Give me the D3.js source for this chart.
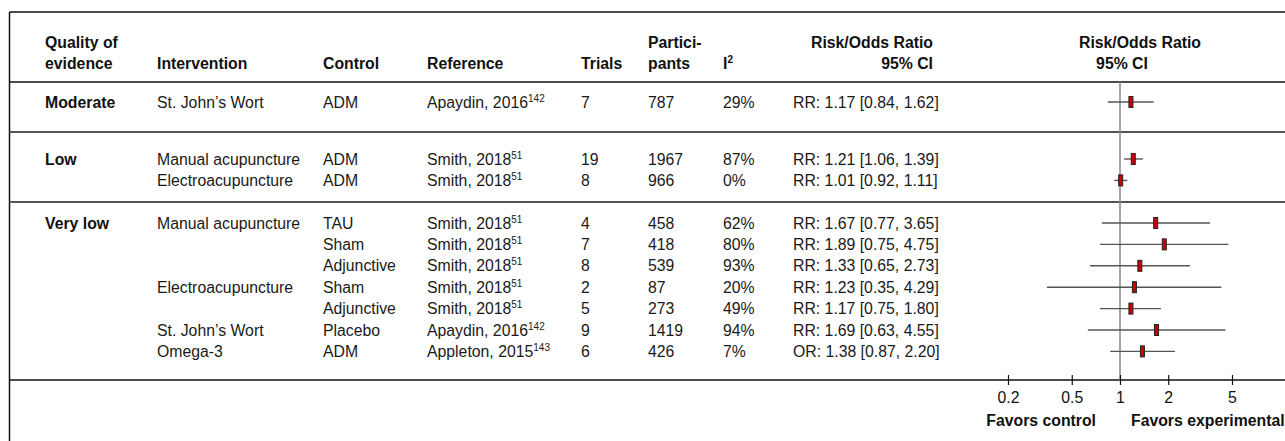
<!DOCTYPE html>
<html>
<head>
<meta charset="utf-8">
<script src="https://cdn.jsdelivr.net/npm/d3@7"></script>
<style>
  html, body { margin: 0; padding: 0; background: #fff; }
  svg { display: block; font-family: Arial, "Liberation Sans", sans-serif; }
</style>
</head>
<body>
<div id="chart"></div>
<script>
// table data, one entry per row
const quality = ['Moderate', 'Low', '', 'Very low', '', '', '', '', '', ''];
const groupOf = [0, 1, 1, 2, 2, 2, 2, 2, 2, 2];
const intervention = ["St. John\u2019s Wort", 'Manual acupuncture', 'Electroacupuncture',
  'Manual acupuncture', '', '', 'Electroacupuncture', '', "St. John\u2019s Wort", 'Omega-3'];
const control = ['ADM', 'ADM', 'ADM', 'TAU', 'Sham', 'Adjunctive', 'Sham', 'Adjunctive', 'Placebo', 'ADM'];
const refName = ['Apaydin, 2016', 'Smith, 2018', 'Smith, 2018', 'Smith, 2018', 'Smith, 2018',
  'Smith, 2018', 'Smith, 2018', 'Smith, 2018', 'Apaydin, 2016', 'Appleton, 2015'];
const refNote = ['142', '51', '51', '51', '51', '51', '51', '51', '142', '143'];
const trials = [7, 19, 8, 4, 7, 8, 2, 5, 9, 6];
const participants = [787, 1967, 966, 458, 418, 539, 87, 273, 1419, 426];
const i2 = [29, 87, 0, 62, 80, 93, 20, 49, 94, 7];
const measure = ['RR', 'RR', 'RR', 'RR', 'RR', 'RR', 'RR', 'RR', 'RR', 'OR'];
const estimate = [1.17, 1.21, 1.01, 1.67, 1.89, 1.33, 1.23, 1.17, 1.69, 1.38];
const lower = [0.84, 1.06, 0.92, 0.77, 0.75, 0.65, 0.35, 0.75, 0.63, 0.87];
const upper = [1.62, 1.39, 1.11, 3.65, 4.75, 2.73, 4.29, 1.80, 4.55, 2.20];
const tickValues = [0.2, 0.5, 1, 2, 5];
const tickLabels = ['0.2', '0.5', '1', '2', '5'];

// set the dimensions
const width = 1285;
const height = 441;
const fontSize = 15.8;

// layout of the table
const frameLeft = 9.5, frameTop = 12;
const headerLine = 82;
const groupLines = [82, 132, 202, 380];   // top of each group, last one is the axis
const groupFirst = [20, 27, 21];          // offset of first row inside a group
const rowH = 21.4;
const col = { quality: 45, intervention: 157, control: 323, reference: 427,
  trials: 581, participants: 648, i2: 723, ratio: 793, ratioRight: 933 };

const rows = estimate.map((d, i) => {
  const g = groupOf[i];
  const k = groupOf.slice(0, i).filter(v => v === g).length;
  return {
    i, quality: quality[i], intervention: intervention[i], control: control[i],
    refName: refName[i], refNote: refNote[i], trials: trials[i],
    participants: participants[i], i2: i2[i], measure: measure[i],
    est: estimate[i], lo: lower[i], hi: upper[i],
    y: groupLines[g] + groupFirst[g] + k * rowH
  };
});

const svg = d3.select('#chart')
  .append('svg')
  .attr('width', width)
  .attr('height', height);

svg.append('rect').attr('width', width).attr('height', height).attr('fill', '#fff');

// x scale for the forest plot
const x = d3.scaleLog()
  .domain([0.2, 5])
  .range([1008, 1232]);

// frame
svg.append('line')
  .attr('x1', frameLeft).attr('x2', width)
  .attr('y1', frameTop).attr('y2', frameTop)
  .attr('stroke', '#111').attr('stroke-width', 1.5);
svg.append('line')
  .attr('x1', frameLeft).attr('x2', frameLeft)
  .attr('y1', frameTop).attr('y2', height)
  .attr('stroke', '#111').attr('stroke-width', 1.5);

// header line and bottom line
svg.selectAll('.hline')
  .data([headerLine, 380])
  .enter()
  .append('line')
  .attr('x1', frameLeft).attr('x2', width)
  .attr('y1', d => d).attr('y2', d => d)
  .attr('stroke', '#111').attr('stroke-width', 1.5);

// separators between groups
svg.selectAll('.sep')
  .data([132, 202])
  .enter()
  .append('line')
  .attr('x1', frameLeft).attr('x2', width)
  .attr('y1', d => d).attr('y2', d => d)
  .attr('stroke', '#555').attr('stroke-width', 2);

// header text
const head = svg.append('g')
  .attr('font-weight', 'bold')
  .attr('font-size', fontSize)
  .attr('fill', '#111');

function headText(txt, xPos, yPos, anchor) {
  return head.append('text')
    .attr('x', xPos).attr('y', yPos)
    .attr('dy', '0.35em')
    .attr('text-anchor', anchor || 'start')
    .text(txt);
}
headText('Quality of', col.quality, 42);
headText('evidence', col.quality, 63);
headText('Intervention', col.intervention, 63);
headText('Control', col.control, 63);
headText('Reference', col.reference, 63);
headText('Trials', col.trials, 63);
headText('Partici-', col.participants, 42);
headText('pants', col.participants, 63);
const iHead = headText('I', col.i2, 63);
iHead.append('tspan').attr('font-size', 10).attr('dy', -6).text('2');
headText('Risk/Odds Ratio', col.ratioRight, 42, 'end');
headText('95% CI', col.ratioRight, 63, 'end');
headText('Risk/Odds Ratio', 1140, 42, 'middle');
headText('95% CI', 1122, 63, 'middle');

// table body
const body = svg.append('g')
  .attr('font-size', fontSize)
  .attr('fill', '#1a1a1a');

const rowG = body.selectAll('.row')
  .data(rows)
  .enter()
  .append('g')
  .attr('transform', d => `translate(0,${d.y})`);

rowG.append('text')
  .attr('x', col.quality).attr('dy', '0.35em')
  .attr('font-weight', 'bold')
  .attr('fill', '#111')
  .text(d => d.quality);
rowG.append('text')
  .attr('x', col.intervention).attr('dy', '0.35em')
  .text(d => d.intervention);
rowG.append('text')
  .attr('x', col.control).attr('dy', '0.35em')
  .text(d => d.control);

const ref = rowG.append('text')
  .attr('x', col.reference).attr('dy', '0.35em');
ref.append('tspan').text(d => d.refName);
ref.append('tspan').attr('font-size', 10).attr('dy', -6).text(d => d.refNote);

rowG.append('text')
  .attr('x', col.trials).attr('dy', '0.35em')
  .text(d => d.trials);
rowG.append('text')
  .attr('x', col.participants).attr('dy', '0.35em')
  .text(d => d.participants);
rowG.append('text')
  .attr('x', col.i2).attr('dy', '0.35em')
  .text(d => d.i2 + '%');
rowG.append('text')
  .attr('x', col.ratio).attr('dy', '0.35em')
  .text(d => `${d.measure}: ${d.est.toFixed(2)} [${d.lo.toFixed(2)}, ${d.hi.toFixed(2)}]`);

// null line
svg.append('line')
  .attr('x1', x(1)).attr('x2', x(1))
  .attr('y1', headerLine).attr('y2', 380)
  .attr('stroke', '#888').attr('stroke-width', 1.5);

// confidence intervals
svg.selectAll('.ci')
  .data(rows)
  .enter()
  .append('line')
  .attr('x1', d => x(d.lo)).attr('x2', d => x(d.hi))
  .attr('y1', d => d.y).attr('y2', d => d.y)
  .attr('stroke', '#555').attr('stroke-width', 1.4);

// point estimates
svg.selectAll('.box')
  .data(rows)
  .enter()
  .append('rect')
  .attr('x', d => x(d.est) - 2)
  .attr('y', d => d.y - 5.5)
  .attr('width', 4)
  .attr('height', 11)
  .attr('fill', '#cc0000')
  .attr('stroke', '#222')
  .attr('stroke-width', 1);

// axis
const axis = svg.append('g')
  .attr('transform', 'translate(0,380)')
  .call(d3.axisBottom(x)
    .tickValues(tickValues)
    .tickFormat((d, i) => tickLabels[i])
    .tickSize(5));
axis.select('.domain').remove();
axis.selectAll('.tick line')
  .attr('y1', -5).attr('y2', 5)
  .attr('stroke', '#111').attr('stroke-width', 1.2);
axis.selectAll('.tick text')
  .attr('y', 17)
  .attr('dy', '0.35em')
  .attr('font-size', fontSize)
  .attr('font-family', 'Arial, "Liberation Sans", sans-serif')
  .attr('fill', '#111');

// favors labels
const fav = svg.append('g')
  .attr('font-weight', 'bold')
  .attr('font-size', fontSize)
  .attr('fill', '#111');
fav.append('text')
  .attr('x', 1096).attr('y', 420).attr('dy', '0.35em')
  .attr('text-anchor', 'end')
  .text('Favors control');
fav.append('text')
  .attr('x', 1131).attr('y', 420).attr('dy', '0.35em')
  .text('Favors experimental');
</script>
</body>
</html>
